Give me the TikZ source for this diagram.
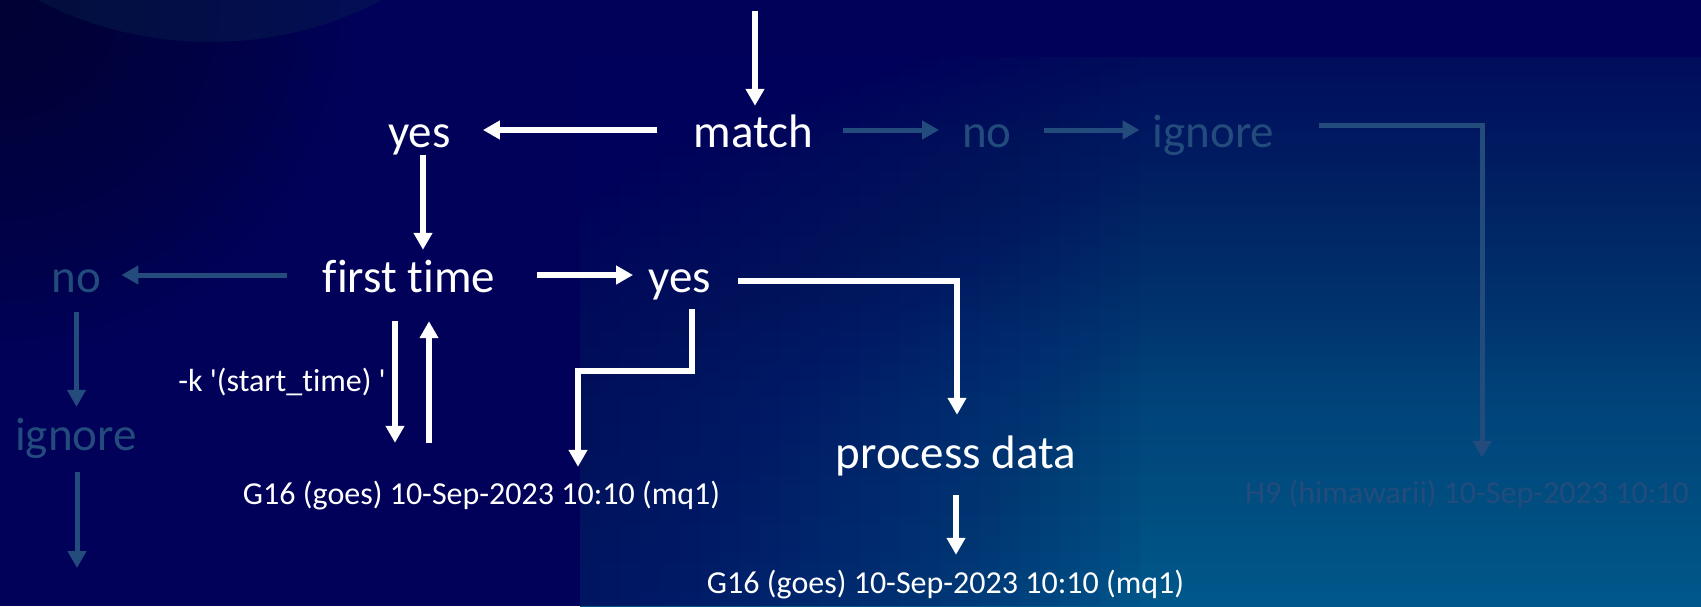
\documentclass[tikz,border=0pt]{standalone}
\usepackage{fontspec}
\setmainfont{Carlito}[Ligatures={TeX,NoCommon}]
\usetikzlibrary{arrows.meta}

\definecolor{bgnavy}{HTML}{01015A}
\definecolor{cornerdark}{HTML}{000A24}
\definecolor{dimblue}{HTML}{234C7C}
\definecolor{discglow}{HTML}{0A2850}
\definecolor{pf0}{HTML}{00588A}
\definecolor{pf1}{HTML}{004D80}
\definecolor{pf2}{HTML}{00437A}
\definecolor{pf3}{HTML}{00316D}
\definecolor{pf4}{HTML}{002263}
\definecolor{pf5}{HTML}{00135E}
\definecolor{pf6}{HTML}{000D5C}

% panel colour, bottom (25bp) to top (75bp)
\pgfdeclareverticalshading{panelfall}{100bp}{%
  color(0bp)=(pf0); color(25bp)=(pf0); color(34.7bp)=(pf1); color(43.8bp)=(pf2);
  color(52.9bp)=(pf3); color(62bp)=(pf4); color(71bp)=(pf5); color(75bp)=(pf6);
  color(100bp)=(pf6)}

\tikzset{
  lbl/.style={inner sep=0pt, anchor=base, text depth=0pt},
  big/.style={lbl, font=\fontsize{47}{56}\selectfont, text height=34pt},
  small/.style={lbl, font=\fontsize{32}{38}\selectfont, text height=22pt},
  wire/.style={line width=5.5pt, -{Triangle[length=17pt,width=18pt]}},
}

\begin{document}
\begin{tikzpicture}[x=1pt,y=-1pt]
\useasboundingbox (0,0) rectangle (1701,606);

% backdrop
\fill[bgnavy] (0,0) rectangle (1701,606);
\begin{scope}
  \clip (0,0) rectangle (1701,606);
  \foreach \r in {20,40,...,360} {\fill[cornerdark, fill opacity=0.05] (0,0) circle (\r);}
  \fill[discglow, fill opacity=0.35] (210,-333) circle (375);
\end{scope}
\begin{scope}
  \clip (580,57) rectangle (1701,606);
  \shade[shading=panelfall] (580,57) rectangle (1701,606);
  \foreach \k in {1,...,28} {\fill[bgnavy, fill opacity=0.04] (580,57) rectangle ({580+\k*20},606);}
\end{scope}

% labels
\node[big, white] (match) at (753.5,147) {match};
\node[big, white] (yesA) at (419.5,147) {yes};
\node[big, white] (first) at (409,292) {first time};
\node[big, dimblue] (noL) at (76.5,292) {no};
\node[big, dimblue] (ignL) at (76,450) {ignore};
\node[big, white] (yesB) at (680,292) {yes};
\node[big, white] (proc) at (956,468) {process data};
\node[small, white] (g16a) at (481.5,504) {G16 (goes) 10-Sep-2023 10:10 (mq1)};
\node[small, white] (g16b) at (945.5,593) {G16 (goes) 10-Sep-2023 10:10 (mq1)};
\node[small, white, anchor=base east] (klab) at (386,391) {-k \textquotesingle(start\_time) \textquotesingle};
\node[big, dimblue] (noR) at (987,147) {no};
\node[big, dimblue] (ignR) at (1213.5,147) {ignore};
\node[small, dimblue] (h9) at (1467,503) {H9 (himawarii) 10-Sep-2023 10:10};

% helper points for bends and free ends
\coordinate (src) at (755,11);
\coordinate (v1) at (423,0);
\coordinate (sink) at (77,568);
\coordinate (k1) at (957,281);
\coordinate (j1) at (692,371);
\coordinate (j2) at (578,371);
\coordinate (dn) at (395,0);
\coordinate (up) at (429,0);
\coordinate (r1) at (1482,125);

% main flow
\draw[wire, white, shorten >=7pt] (src) -- (src |- match.north);
\draw[wire, white, shorten <=37pt, shorten >=32pt] (match.west) -- (yesA.east);
\draw[wire, white, shorten <=8pt, shorten >=8pt] (v1 |- yesA.south) -- (v1 |- first.north);
\draw[wire, white, shorten <=42pt, shorten >=15.5pt] (first.east) -- (yesB.west);
\draw[wire, white, shorten <=26.5pt, shorten >=19pt] (yesB.east |- k1) -- (k1) -- (k1 |- proc.north);
\draw[wire, white, shorten <=17pt, shorten >=15pt] (j1 |- yesB.south) -- (j1) -- (j2) -- (j2 |- g16a.north);
\draw[wire, white, shorten <=29pt, shorten >=39pt] (dn |- first.south) -- (dn |- g16a.north);
\draw[wire, white, shorten <=39pt, shorten >=29pt] (up |- g16a.north) -- (up |- first.south);
\draw[wire, white, shorten <=27pt, shorten >=16pt] (proc.south) -- (proc.south |- g16b.north);

% dimmed branches
\draw[wire, dimblue, line width=5pt, shorten <=36pt, shorten >=20pt] (first.west) -- (noL.east);
\draw[wire, dimblue, line width=5pt, shorten <=20pt, shorten >=9pt] (noL.south) -- (noL.south |- ignL.north);
\draw[wire, dimblue, line width=5pt, shorten <=22pt] (sink |- ignL.south) -- (sink);
\draw[wire, dimblue, line width=5pt, shorten <=30pt, shorten >=23pt] (match.east) -- (noR.west);
\draw[wire, dimblue, line width=5pt, shorten <=32pt, shorten >=13pt] (noR.east) -- (ignR.west);
\draw[wire, dimblue, line width=5pt, shorten <=45pt, shorten >=23pt] (ignR.east |- r1) -- (r1) -- (r1 |- h9.north);
\end{tikzpicture}
\end{document}
